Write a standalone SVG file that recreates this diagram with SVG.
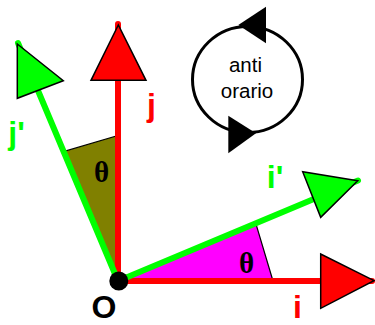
<svg xmlns="http://www.w3.org/2000/svg" width="375" height="325" viewBox="0 0 375 325">
<style>
.lbl{font-family:"Liberation Sans",Arial,sans-serif;font-weight:bold;font-size:32px;text-anchor:middle}
.theta{font-family:"Liberation Serif","Times New Roman",serif;font-weight:bold;font-size:29px;text-anchor:middle;fill:#000}
.rot{font-family:"Liberation Sans",Arial,sans-serif;font-size:20.5px;text-anchor:middle;fill:#000}
.red{stroke:#FF0000;stroke-width:6;stroke-linecap:round;fill:none}
.green{stroke:#00FF00;stroke-width:6;stroke-linecap:round;fill:none}
.headR{fill:#FF0000;stroke:#000;stroke-width:1.5;stroke-linejoin:miter}
.headG{fill:#00FF00;stroke:#000;stroke-width:1.5;stroke-linejoin:miter}
.headK{fill:#000;stroke:none}
</style>
<rect width="375" height="325" fill="#fff"/>
<g id="angles">
  <polygon id="wedge-j" points="118,281 118,135.5 64,151.5" fill="#808000" stroke="#000" stroke-width="1.2"/>
  <polygon id="wedge-i" points="118,281 256,224 273,281" fill="#FF00FF" stroke="#000" stroke-width="1.2"/>
  <text class="theta" x="101.5" y="182">θ</text>
  <text class="theta" x="246.5" y="272.5">θ</text>
</g>
<g id="connectors">
  <g id="axis-j">
    <line class="red" x1="118" y1="281" x2="118" y2="24"/>
    <polygon class="headR" points="118.3,25 91,80.3 146,80.3"/>
  </g>
  <g id="axis-i">
    <line class="red" x1="118" y1="281" x2="372" y2="281"/>
    <polygon class="headR" points="374,280.7 320.7,254 320.7,308.3"/>
  </g>
  <g id="axis-jp">
    <line class="green" x1="118" y1="281" x2="18" y2="43"/>
    <polygon class="headG" points="17.3,44 63.3,80.7 17.3,98.3"/>
  </g>
  <g id="axis-ip">
    <line class="green" x1="118" y1="281" x2="358" y2="180.5"/>
    <polygon class="headG" points="357.7,180.7 302.7,171.7 320.7,217.3"/>
  </g>
</g>
<g id="origin">
  <circle cx="118.8" cy="281" r="9.5" fill="#000"/>
  <text class="lbl" x="104" y="318" fill="#000">O</text>
</g>
<g id="labels">
  <text class="lbl" x="151.5" y="116" fill="#FF0000">j</text>
  <text class="lbl" x="297.5" y="318" fill="#FF0000">i</text>
  <text class="lbl" x="16.5" y="144" fill="#00FF00">j'</text>
  <text class="lbl" x="275" y="188" fill="#00FF00">i'</text>
</g>
<g id="rotation">
  <ellipse cx="247.5" cy="79.5" rx="55" ry="53" fill="none" stroke="#000" stroke-width="3"/>
  <polygon class="headK" points="266,6.7 238.3,25 266,43.3"/>
  <polygon class="headK" points="228.3,115.7 256,133.3 228.3,153.3"/>
  <text class="rot" x="245.5" y="71.5">anti</text>
  <text class="rot" x="247" y="97.5">orario</text>
</g>
</svg>
